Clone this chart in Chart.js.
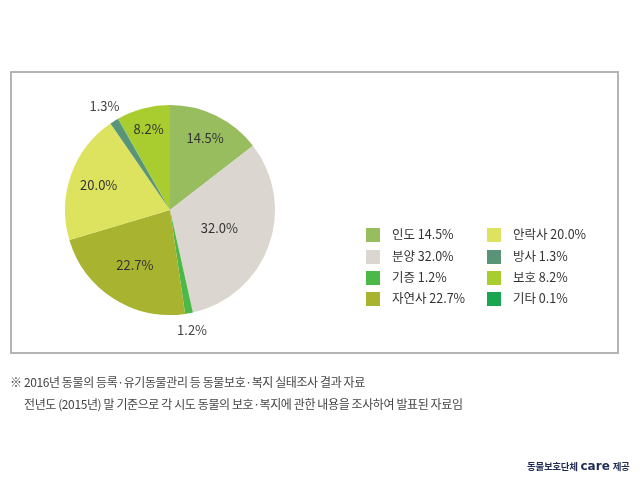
<!DOCTYPE html>
<html><head><meta charset="utf-8">
<script src="https://cdn.jsdelivr.net/npm/chart.js@4"></script>
<style>
html,body{margin:0;padding:0;background:#fff;width:640px;height:480px;overflow:hidden;font-family:"Noto Sans CJK KR","Noto Sans",sans-serif;position:relative;}
#c{position:absolute;left:0;top:0;}
#legend{position:absolute;left:366px;top:226px;font-size:12.5px;color:#333;}
.item{position:absolute;white-space:nowrap;height:16px;line-height:16px;}
.sw{display:inline-block;width:14px;height:14px;vertical-align:middle;margin-right:12px;margin-top:-2px;}
.note{position:absolute;font-size:12px;color:#444;white-space:nowrap;letter-spacing:-0.4px;}
#credit{position:absolute;left:527px;top:459px;font-size:9.5px;font-weight:bold;color:#1f2b55;white-space:nowrap;letter-spacing:-0.3px;}
#credit b{font-family:"DejaVu Sans",sans-serif;font-size:12px;font-weight:900;margin:0 1px;letter-spacing:0;}
</style></head><body>
<canvas id="c" width="640" height="480"></canvas>
<div id="legend"></div>
<div class="note" style="left:10px;top:373px;">※ 2016년 동물의 등록·유기동물관리 등 동물보호·복지 실태조사 결과 자료</div>
<div class="note" style="left:24px;top:395px;">전년도 (2015년) 말 기준으로 각 시도 동물의 보호·복지에 관한 내용을 조사하여 발표된 자료임</div>
<div id="credit">동물보호단체 <b>care</b> 제공</div>
<script>
const categories = ["인도","분양","기증","자연사","안락사","방사","기타","보호"];
const values = [14.5, 32.0, 1.2, 22.7, 20.0, 1.3, 0.1, 8.2];
const colors = ["#97bd5e","#dcd6d0","#4cb848","#a8b42f","#dde35e","#5a9478","#1aa550","#a9cc2e"];
const legendOrder = ["인도","분양","기증","자연사","안락사","방사","보호","기타"];

// label distance from centre, as a fraction of the radius (style only)
const labelRadius = [0.76, 0.5, 1.16, 0.62, 0.72, 1.17, 0, 0.8];

const framePlugin = {
  id:'frame',
  beforeDraw(chart){
    const ctx = chart.ctx;
    ctx.save();
    ctx.strokeStyle = '#b4b4b4';
    ctx.lineWidth = 2;
    ctx.strokeRect(11, 72, 607, 281);
    ctx.restore();
  }
};

const labelPlugin = {
  id:'pctLabels',
  afterDatasetsDraw(chart){
    const ctx = chart.ctx;
    const meta = chart.getDatasetMeta(0);
    ctx.save();
    ctx.font = '13px "Noto Sans CJK KR","Noto Sans",sans-serif';
    ctx.textAlign='center'; ctx.textBaseline='middle';
    meta.data.forEach((arc,i)=>{
      const v = values[i];
      if (v < 1) return;
      const mid = (arc.startAngle+arc.endAngle)/2;
      const r = arc.outerRadius*labelRadius[i];
      const x = arc.x + Math.cos(mid)*r;
      const y = arc.y + Math.sin(mid)*r;
      ctx.fillStyle = v < 2 ? '#444' : '#333';
      ctx.fillText(v.toFixed(1)+'%', x, y);
    });
    ctx.restore();
  }
};

new Chart(document.getElementById('c'), {
  type:'pie',
  data:{labels:categories, datasets:[{data:values, backgroundColor:colors, borderWidth:0}]},
  options:{
    responsive:false, animation:false,
    layout:{padding:{left:65, top:105, right:365, bottom:165}},
    plugins:{legend:{display:false}, tooltip:{enabled:false}}
  },
  plugins:[framePlugin, labelPlugin]
});

const leg = document.getElementById('legend');
const rowY = [0,22,43,64];
legendOrder.forEach((name,k)=>{
  const i = categories.indexOf(name);
  const col = k<4?0:1, row = k%4;
  const d = document.createElement('div');
  d.className='item';
  d.style.left = (col*121)+'px';
  d.style.top = rowY[row]+'px';
  d.innerHTML = '<span class="sw" style="background:'+colors[i]+'"></span>'+name+' '+values[i].toFixed(1)+'%';
  leg.appendChild(d);
});
</script>
</body></html>
